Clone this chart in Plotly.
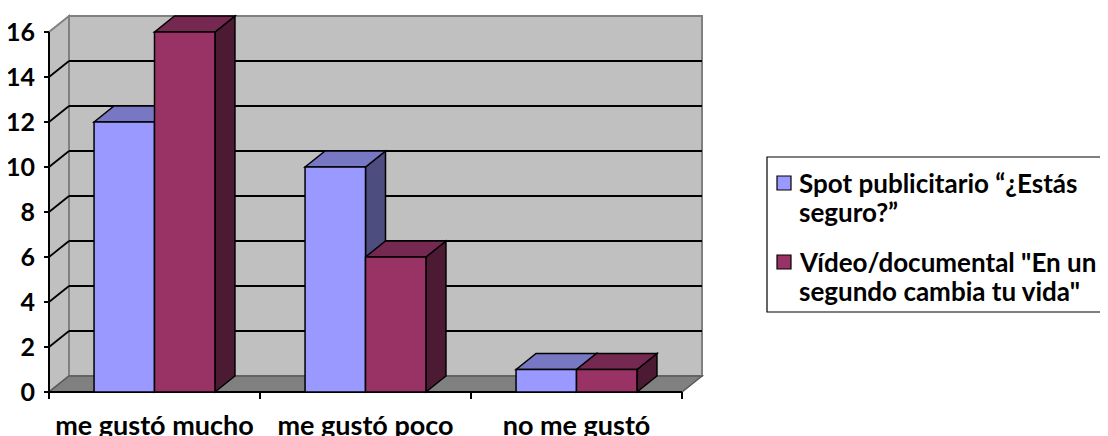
import plotly.graph_objects as go

# ---------------- data ----------------
categories = ["me gustó mucho", "me gustó poco", "no me gustó"]
series_names = ["Spot publicitario “¿Estás seguro?”",
                'Vídeo/documental "En un segundo cambia tu vida"']
spot_values = [12, 10, 1]
video_values = [16, 6, 1]
y_ticks = [0, 2, 4, 6, 8, 10, 12, 14, 16]
legend_lines = [["Spot publicitario “¿Estás", "seguro?”"],
                ['Vídeo/documental "En un', 'segundo cambia tu vida"']]

# ---------------- styles ----------------
front_colors = ["#9999FF", "#993366"]
top_colors = ["#7777C4", "#752850"]
side_colors = ["#4D4D80", "#4D1A33"]
WALL = "#C0C0C0"
FLOOR = "#808080"
EDGE = "#808080"
FONT = "Lato"

# ---------------- geometry ----------------
# The page body has an 8px margin, so the figure is drawn 8px right/down.
OFF = 8
W, H = 1100, 428
PLOT_LEFT, PLOT_RIGHT, PLOT_TOP, PLOT_BOTTOM = 44, 720, 10, 401   # in window pixels
L, R = PLOT_LEFT - OFF, W - (PLOT_RIGHT - OFF)
T, B = PLOT_TOP - OFF, H - (PLOT_BOTTOM - OFF)
PLOT_W = PLOT_RIGHT - PLOT_LEFT
PLOT_H = PLOT_BOTTOM - PLOT_TOP
X_FRONT_PX = 49      # window pixel of category edge -0.5
CAT_PX = 211         # pixels per category
Y0_PX = 392          # window pixel of value 0
UNIT_PX = 22.5       # pixels per value unit
x_range = [-0.5 - (X_FRONT_PX - PLOT_LEFT) / CAT_PX, -0.5 + (PLOT_RIGHT - X_FRONT_PX) / CAT_PX]
y_range = [-(PLOT_BOTTOM - Y0_PX) / UNIT_PX, (Y0_PX - PLOT_TOP) / UNIT_PX]
DX = 20 / CAT_PX     # depth offset in x units
DY = 16 / UNIT_PX    # depth offset in y units
BARGAP = 0.427
BW = (1 - BARGAP) / 2
n = len(categories)
x_min, x_max = -0.5, n - 0.5
y_top = max(y_ticks)


def path(pts):
    return "M " + " L ".join(f"{x},{y}" for x, y in pts) + " Z"


def px_to_paper_x(px):
    return (px - PLOT_LEFT) / PLOT_W


def px_to_paper_y(py):
    return (PLOT_BOTTOM - py) / PLOT_H


shapes = []
# back wall
shapes.append(dict(type="rect", xref="x", yref="y", layer="below",
                   x0=x_min + DX, x1=x_max + DX, y0=DY, y1=y_top + DY,
                   fillcolor=WALL, line=dict(color=EDGE, width=2)))
# left wall
shapes.append(dict(type="path", xref="x", yref="y", layer="below",
                   path=path([(x_min, 0), (x_min + DX, DY), (x_min + DX, y_top + DY), (x_min, y_top)]),
                   fillcolor=WALL, line=dict(color=EDGE, width=2)))
# floor
shapes.append(dict(type="path", xref="x", yref="y", layer="below",
                   path=path([(x_min, 0), (x_max, 0), (x_max + DX, DY), (x_min + DX, DY)]),
                   fillcolor=FLOOR, line=dict(color="#5a5a5a", width=1.5)))
# gridlines on back and left walls
for t in y_ticks:
    if t == 0 or t == y_top:
        continue
    shapes.append(dict(type="line", xref="x", yref="y", layer="below",
                       x0=x_min + DX, x1=x_max + DX, y0=t + DY, y1=t + DY,
                       line=dict(color="black", width=1.8)))
    shapes.append(dict(type="line", xref="x", yref="y", layer="below",
                       x0=x_min, x1=x_min + DX, y0=t, y1=t + DY,
                       line=dict(color="black", width=1.8)))
# front axes
shapes.append(dict(type="line", xref="x", yref="y", layer="below",
                   x0=x_min, x1=x_min, y0=0, y1=y_top, line=dict(color="black", width=2)))
shapes.append(dict(type="line", xref="x", yref="y", layer="below",
                   x0=x_min, x1=x_max, y0=0, y1=0, line=dict(color="black", width=2)))
for t in y_ticks:
    shapes.append(dict(type="line", xref="x", yref="y", layer="below",
                       x0=x_min - 5 / CAT_PX, x1=x_min, y0=t, y1=t,
                       line=dict(color="black", width=2)))
for k in range(n + 1):
    shapes.append(dict(type="line", xref="x", yref="y", layer="below",
                       x0=x_min + k, x1=x_min + k, y0=0, y1=-7 / UNIT_PX,
                       line=dict(color="black", width=2)))

# 3D faces (top and side) of each bar
for j, vals in enumerate([spot_values, video_values]):
    for i, v in enumerate(vals):
        left = i - BW + j * BW
        right = left + BW
        shapes.append(dict(type="path", xref="x", yref="y", layer="below",
                           path=path([(right, 0), (right + DX, DY), (right + DX, v + DY), (right, v)]),
                           fillcolor=side_colors[j], line=dict(color="black", width=1.5)))
        shapes.append(dict(type="path", xref="x", yref="y", layer="below",
                           path=path([(left, v), (left + DX, v + DY), (right + DX, v + DY), (right, v)]),
                           fillcolor=top_colors[j], line=dict(color="black", width=1.5)))

fig = go.Figure()
for j, vals in enumerate([spot_values, video_values]):
    fig.add_trace(go.Bar(
        x=list(range(n)), y=vals, name=series_names[j],
        marker=dict(color=front_colors[j], line=dict(color="black", width=1.5)),
        showlegend=False,
        hovertemplate="%{text}: %{y}<extra>" + series_names[j] + "</extra>",
        text=categories, textposition="none"))

# custom legend (box, swatches, text lines)
LEG_LEFT, LEG_TOP, LEG_RIGHT, LEG_BOTTOM = 767, 157, 1118, 312
shapes.append(dict(type="rect", xref="paper", yref="paper",
                   x0=px_to_paper_x(LEG_LEFT), x1=px_to_paper_x(LEG_RIGHT),
                   y0=px_to_paper_y(LEG_BOTTOM), y1=px_to_paper_y(LEG_TOP),
                   fillcolor="white", line=dict(color="black", width=1.2), layer="below"))
annotations = []
item_first_line_px = [183, 262]
LINE_PX = 29
for j, lines in enumerate(legend_lines):
    cy = item_first_line_px[j]
    shapes.append(dict(type="rect", xref="paper", yref="paper",
                       x0=px_to_paper_x(777), x1=px_to_paper_x(791),
                       y0=px_to_paper_y(cy + 7), y1=px_to_paper_y(cy - 7),
                       fillcolor=front_colors[j], line=dict(color="black", width=1.2)))
    for m, txt in enumerate(lines):
        annotations.append(dict(xref="paper", yref="paper", x=px_to_paper_x(797),
                                y=px_to_paper_y(cy + m * LINE_PX), xanchor="left", yanchor="middle",
                                text=txt, showarrow=False,
                                font=dict(family=FONT, size=26, color="black", weight="bold")))

fig.update_layout(
    width=W, height=H,
    margin=dict(l=L, r=R, t=T, b=B, autoexpand=False),
    paper_bgcolor="white", plot_bgcolor="white",
    barmode="group", bargap=BARGAP, bargroupgap=0,
    shapes=shapes, annotations=annotations,
    showlegend=False,
    xaxis=dict(range=x_range, tickvals=list(range(n)), ticktext=categories,
               showgrid=False, zeroline=False, showline=False,
               ticks="outside", ticklen=1, tickcolor="rgba(0,0,0,0)",
               tickfont=dict(family=FONT, size=27, color="black", weight="bold")),
    yaxis=dict(range=y_range, tickvals=y_ticks,
               showgrid=False, zeroline=False, showline=False,
               ticks="outside", ticklen=3, tickcolor="rgba(0,0,0,0)",
               tickfont=dict(family=FONT, size=25, color="black", weight="bold")),
)

fig.write_html("out.html")
